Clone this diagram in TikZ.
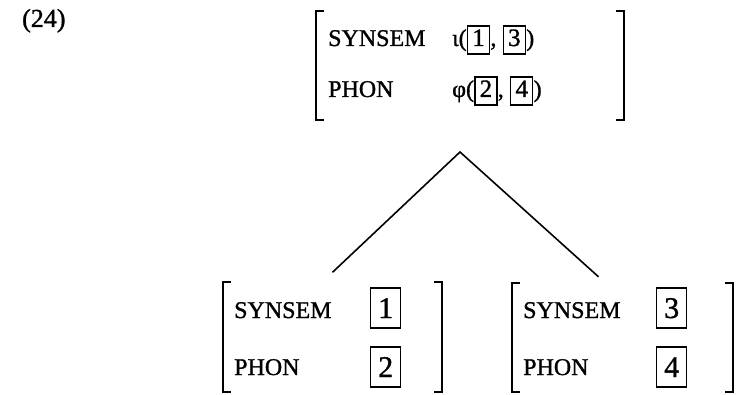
\documentclass[tikz,border=0pt]{standalone}
\usepackage{fontspec}
\setmainfont{Liberation Serif}[FakeBold=1.2]
\usetikzlibrary{positioning}
\tikzset{
 avm/.style={minimum width=#1,minimum height=109pt,inner sep=0pt},
 brk/.style={line width=1.8pt},
 feat/.style={anchor=base west,inner sep=0pt,font=\fontsize{24}{28}\selectfont},
 val/.style={inner sep=0pt,text height=17pt,text depth=5pt,font=\fontsize{24}{28}\selectfont},
 tag/.style={draw,line width=1.4pt,inner sep=0pt,minimum width=22pt,minimum height=28pt,text height=17pt,text depth=5pt,font=\fontsize{25}{28}\selectfont},
 bigtag/.style={tag,minimum width=30pt,minimum height=40pt,text height=22pt,text depth=2pt,font=\fontsize{30}{34}\selectfont}
}
\newcommand\avmbrackets[1]{%
 \draw[brk] ([xshift=8pt]#1.north west)--(#1.north west)--(#1.south west)--([xshift=8pt]#1.south west);
 \draw[brk] ([xshift=-8pt]#1.north east)--(#1.north east)--(#1.south east)--([xshift=-8pt]#1.south east);}
\begin{document}
\begin{tikzpicture}[x=1pt,y=-1pt]
\useasboundingbox (0,0) rectangle (741,395);
\node[anchor=base west,inner sep=0pt,font=\fontsize{26}{30}\selectfont] (ex) at (22,27) {(24)};
\node[avm=308pt] (M) at (470,65.5) {};
\node[avm=219pt] (L) at (332.5,337) {};
\node[avm=221pt] (R) at (622.5,337.5) {};
\avmbrackets{M} \avmbrackets{L} \avmbrackets{R}
\node[feat] (ms) at (328,46) {SYNSEM};
\node[feat] (mp) at (328,97) {PHON};
\node[val,anchor=base west] (ms0) at (452,46) {ι(};
\node[tag,right=0pt of ms0] (ms1) {1};
\node[val,right=0pt of ms1] (ms2) {,\hspace*{6pt}};
\node[tag,right=0pt of ms2] (ms3) {3};
\node[val,right=0pt of ms3] (ms4) {)};
\node[val,anchor=base west] (mp0) at (452,97) {φ(};
\node[tag,right=0pt of mp0] (mp1) {2};
\node[val,right=0pt of mp1] (mp2) {,\hspace*{6pt}};
\node[tag,right=0pt of mp2] (mp3) {4};
\node[val,right=0pt of mp3] (mp4) {)};
\node[feat] (ls) at (234,318) {SYNSEM};
\node[feat] (lp) at (234,375) {PHON};
\node[bigtag,anchor=base west] (l1) at (370,318) {1};
\node[bigtag,anchor=base west] (l2) at (370,377) {2};
\node[feat] (rs) at (523,318) {SYNSEM};
\node[feat] (rp) at (523,375) {PHON};
\node[bigtag,anchor=base west] (r1) at (656,318) {3};
\node[bigtag,anchor=base west] (r2) at (656,377) {4};
\coordinate (apex) at (460,152);
\draw[line width=1.6pt] ([yshift=10pt]L.north)--(apex)--([xshift=-24pt,yshift=6pt]R.north);
\end{tikzpicture}
\end{document}
